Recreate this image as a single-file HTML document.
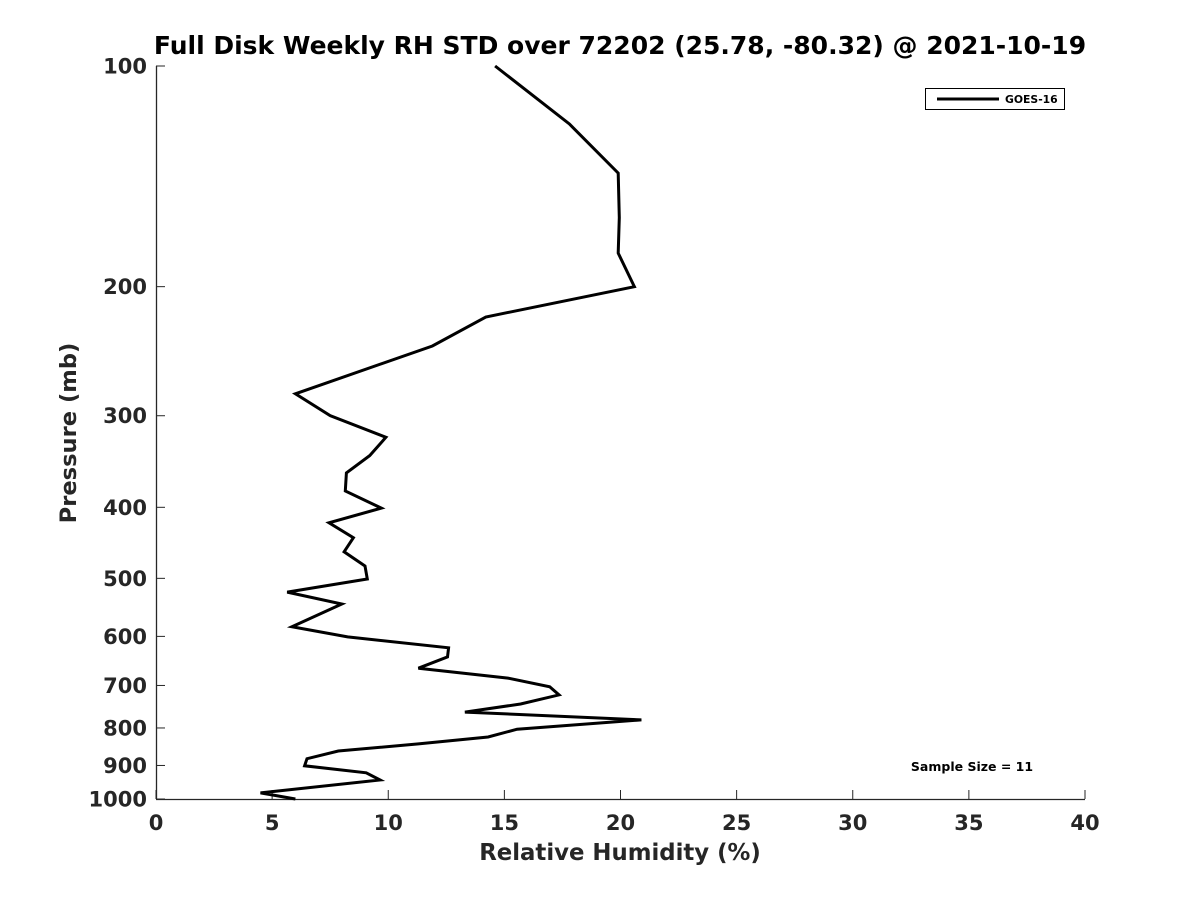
<!DOCTYPE html>
<html><head><meta charset="utf-8"><style>
html,body{margin:0;padding:0;background:#fff;}
svg{display:block;font-family:"DejaVu Sans","Liberation Sans",sans-serif;font-weight:bold;}
</style></head><body>
<svg id="chart" width="1200" height="900" viewBox="0 0 1200 900">
<text x="620" y="54" text-anchor="middle" font-size="25" fill="#000">Full Disk Weekly RH STD over 72202 (25.78, -80.32) @ 2021-10-19</text>
<g id="axes"></g>
<polyline id="series" fill="none" stroke="#000" stroke-width="3" stroke-linejoin="miter"></polyline>
<g>
<rect x="925.5" y="88.5" width="139" height="21" fill="#fff" stroke="#000" stroke-width="1"></rect>
<line x1="937" y1="99" x2="999" y2="99" stroke="#000" stroke-width="3"></line>
<text x="1005" y="103" font-size="10.8" fill="#000">GOES-16</text>
</g>
<text x="972" y="771" text-anchor="middle" font-size="12.5" fill="#000">Sample Size = 11</text>
<text x="620" y="860" text-anchor="middle" font-size="22.8" fill="#262626">Relative Humidity (%)</text>
<text transform="translate(76,433) rotate(-90)" text-anchor="middle" font-size="22.6" fill="#262626">Pressure (mb)</text>
</svg>
<script>
const rhValues = [14.6,17.8,19.9,19.95,19.9,20.6,14.2,11.9,6.0,7.5,9.9,9.2,8.2,8.15,9.7,7.45,8.5,8.1,9.0,9.1,5.65,8.0,5.85,8.25,12.6,12.55,11.3,15.15,16.95,17.35,15.7,13.3,20.9,15.55,14.3,11.3,7.85,6.5,6.4,9.05,9.65,4.5,6.0];
const pressureLevels = [100,120,140,161,180,200,220,241,280,300,321,340,359,380,401,420,440,460,481,501,522,542,582,601,622,640,663,684,703,721,742,761,780,803,823,841,860,881,901,921,942,981,1000];
const xTicks = [0,5,10,15,20,25,30,35,40];
const yTicks = [100,200,300,400,500,600,700,800,900,1000];

const L=156,R=1085,T=66,B=799;
function xs(v){return L+(v-0)/(40-0)*(R-L);}
function ys(p){return T+(Math.log10(p)-2)*(B-T);}
const NS="http://www.w3.org/2000/svg";
const ax=document.getElementById('axes');
function mk(tag,attrs){const e=document.createElementNS(NS,tag);for(const k in attrs)e.setAttribute(k,attrs[k]);return e;}
let e=mk('line',{x1:L,y1:B+0.5,x2:R,y2:B+0.5,stroke:'#262626','stroke-width':1.3});


ax.appendChild(e);
e=mk('line',{x1:L+0.5,y1:T,x2:L+0.5,y2:B,stroke:'#262626','stroke-width':1.3});


ax.appendChild(e);
xTicks.forEach(v=>{
  const x=xs(v);
  let t=mk('line',{x1:x,y1:B,x2:x,y2:B-9,stroke:'#262626','stroke-width':1});
  
  
  ax.appendChild(t);
  let l=mk('text',{x:x,y:B+31,'text-anchor':'middle','font-size':21,fill:'#262626'});
  l.textContent=v;
  
  
  ax.appendChild(l);
});
yTicks.forEach(p=>{
  const y=ys(p);
  let t=mk('line',{x1:L,y1:y,x2:L+9,y2:y,stroke:'#262626','stroke-width':1});
  
  
  ax.appendChild(t);
  let l=mk('text',{x:L-9,y:y+7.5,'text-anchor':'end','font-size':21,fill:'#262626'});
  l.textContent=p;
  
  
  ax.appendChild(l);
});
document.getElementById('series').setAttribute('points',rhValues.map((v,i)=>xs(v).toFixed(1)+','+ys(pressureLevels[i]).toFixed(1)).join(' '));
</script>
</body></html>
